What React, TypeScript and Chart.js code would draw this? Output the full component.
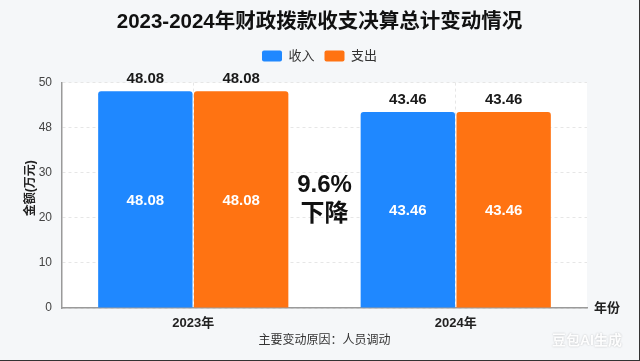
import React, { useEffect, useRef } from "react";
import { Chart, registerables } from "chart.js";

Chart.register(...registerables);

const categories = ["2023年", "2024年"];
const seriesNames = ["收入", "支出"];
const incomeValues = [48.08, 43.46];
const expenseValues = [48.08, 43.46];
const yTickLabels = ["0", "10", "20", "30", "48", "50"];
const titleText = "2023-2024年财政拨款收支决算总计变动情况";
const yAxisTitle = "金额(万元)";
const xAxisTitle = "年份";
const footerText = "主要变动原因：人员调动";
const changeWord = "下降";
const watermarkText = "豆包AI生成";

const BLUE = "#1f88ff";
const ORANGE = "#ff7312";
const FONT = '"Liberation Sans", "Noto Sans CJK SC", sans-serif';

const extrasPlugin = {
  id: "extras",
  beforeDraw(chart: any) {
    const { ctx, chartArea } = chart;
    ctx.save();
    ctx.fillStyle = "#ffffff";
    ctx.fillRect(chartArea.left, chartArea.top, chartArea.right - chartArea.left, chartArea.bottom - chartArea.top);
    ctx.restore();
  },
  afterDatasetsDraw(chart: any) {
    const { ctx } = chart;
    ctx.save();
    ctx.textAlign = "center";
    ctx.textBaseline = "middle";
    chart.data.datasets.forEach((ds: any, di: number) => {
      const meta = chart.getDatasetMeta(di);
      meta.data.forEach((el: any, i: number) => {
        const v = ds.data[i] as number;
        const txt = v.toFixed(2);
        ctx.font = `bold 15px ${FONT}`;
        ctx.fillStyle = "#1a1a1a";
        ctx.fillText(txt, el.x, el.y - 12);
        ctx.fillStyle = "#ffffff";
        ctx.fillText(txt, el.x, (el.y + el.base) / 2 + 1);
      });
    });
    ctx.restore();
  },
  afterDraw(chart: any) {
    const { ctx, chartArea, scales } = chart;
    const xs = scales.x;
    const ys = scales.y;
    ctx.save();
    ctx.font = `bold 12px ${FONT}`;
    ctx.fillStyle = "#222";
    ctx.textAlign = "center";
    ctx.textBaseline = "middle";
    ctx.save();
    ctx.translate(31, (chartArea.top + chartArea.bottom) / 2 - 7);
    ctx.rotate(-Math.PI / 2);
    ctx.fillText(yAxisTitle, 0, 0);
    ctx.restore();
    ctx.font = `bold 13px ${FONT}`;
    ctx.fillText(xAxisTitle, chartArea.right + 20, chartArea.bottom);
    const cx = (xs.getPixelForValue(0) + xs.getPixelForValue(1)) / 2;
    const a = incomeValues[0];
    const b = incomeValues[1];
    const pct = (((a - b) / a) * 100).toFixed(1) + "%";
    ctx.font = `bold 24px ${FONT}`;
    ctx.fillStyle = "#111";
    ctx.fillText(pct, cx, ys.getPixelForValue(27.1));
    ctx.fillText(changeWord, cx, ys.getPixelForValue(20.8));
    ctx.font = `12px ${FONT}`;
    ctx.fillStyle = "#333";
    ctx.fillText(footerText, (chartArea.left + chartArea.right) / 2, chartArea.bottom + 33);
    ctx.font = `bold 14px ${FONT}`;
    ctx.shadowColor = "rgba(0,0,0,0.25)";
    ctx.shadowBlur = 2;
    ctx.fillStyle = "rgba(255,255,255,0.95)";
    ctx.fillText(watermarkText, 587, chartArea.bottom + 33);
    ctx.restore();
  },
};

export default function App() {
  const ref = useRef<HTMLCanvasElement>(null);
  useEffect(() => {
    const canvas = ref.current;
    if (!canvas) return;
    const chart = new Chart(canvas, {
      type: "bar",
      data: {
        labels: categories,
        datasets: [
          {
            label: seriesNames[0],
            data: incomeValues,
            backgroundColor: BLUE,
            borderRadius: 3,
            borderSkipped: "bottom",
            categoryPercentage: 0.73,
            barPercentage: 0.985,
          },
          {
            label: seriesNames[1],
            data: expenseValues,
            backgroundColor: ORANGE,
            borderRadius: 3,
            borderSkipped: "bottom",
            categoryPercentage: 0.73,
            barPercentage: 0.985,
          },
        ],
      },
      plugins: [extrasPlugin],
      options: {
        responsive: false,
        animation: false,
        events: [],
        layout: { padding: { top: 1, right: 26, bottom: 0, left: 26 } },
        plugins: {
          title: {
            display: true,
            text: titleText,
            color: "#111",
            font: { family: FONT, size: 20.5, weight: "bold", lineHeight: 1.2 },
            padding: { top: 9, bottom: 5 },
          },
          subtitle: {
            display: true,
            text: "",
            weight: 500,
            font: { family: FONT, size: 10, lineHeight: 1 },
            padding: 0,
          } as any,
          legend: {
            display: true,
            labels: {
              boxWidth: 20,
              boxHeight: 11,
              padding: 10,
              color: "#333",
              useBorderRadius: true,
              borderRadius: 2,
              font: { family: FONT, size: 13 },
            },
          },
          tooltip: { enabled: false },
        },
        scales: {
          x: {
            grid: { display: true, offset: false, drawTicks: false, color: "#e6e6e6" },
            border: { display: true, color: "#9a9a9a", width: 1.5, dash: [3, 3] },
            ticks: { color: "#222", padding: 8, font: { family: FONT, size: 13, weight: "bold" } },
            afterFit: (s: any) => {
              s.height = 52;
            },
          },
          y: {
            min: 0,
            max: 50,
            grid: { color: "#e6e6e6", drawTicks: false },
            border: { display: true, color: "#9a9a9a", width: 1.5, dash: [3, 3] },
            ticks: {
              stepSize: 10,
              padding: 10,
              color: "#444",
              font: { family: FONT, size: 12 },
              callback: (_v: any, i: number) => yTickLabels[i],
            },
            afterFit: (s: any) => {
              s.width = 36;
            },
          },
          yRight: {
            position: "right",
            display: true,
            min: 0,
            max: 50,
            grid: { display: false, drawTicks: false },
            border: { display: false },
            ticks: { display: false },
            afterFit: (s: any) => {
              s.width = 26;
            },
          },
        },
      } as any,
    });
    return () => chart.destroy();
  }, []);

  return (
    <div
      style={{
        position: "fixed",
        left: 0,
        top: 0,
        width: 640,
        height: 361,
        boxSizing: "border-box",
        borderRight: "1px solid #333",
        borderBottom: "1px solid #333",
        background: "#f5f7f9",
      }}
    >
      <canvas ref={ref} width={639} height={360} style={{ display: "block" }} />
    </div>
  );
}
